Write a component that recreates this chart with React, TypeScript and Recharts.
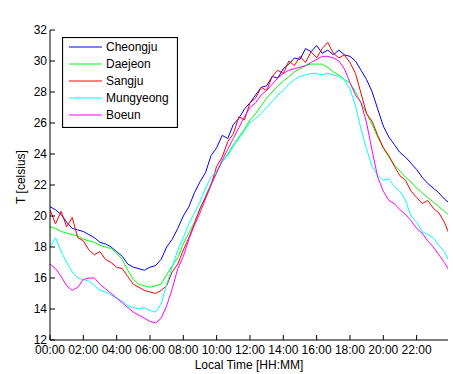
import { Legend, Line, LineChart, XAxis, YAxis } from "recharts";

// readings every 20 minutes, 00:00 .. 24:00 (deg C)
const CHEONGJU = [
  20.6, 20.4, 20.1, 19.6, 19.2, 19.1, 19.0, 18.8, 18.6, 18.3, 18.2, 18.0, 17.7, 17.4, 16.9, 16.7, 16.6, 16.5,
  16.7, 16.8, 17.2, 18.0, 18.5, 19.2, 20.0, 20.6, 21.5, 22.2, 22.8, 23.9, 24.4, 25.2, 25.0, 25.9, 26.3, 26.9,
  27.3, 27.8, 28.3, 28.4, 29.0, 28.9, 29.5, 29.8, 30.2, 30.1, 30.8, 30.6, 31.0, 30.5, 30.7, 30.4, 30.7, 30.4,
  30.3, 30.0, 29.4, 28.8, 28.0, 26.9, 25.8, 25.1, 24.6, 24.1, 23.8, 23.4, 23.0, 22.5, 22.1, 21.8, 21.5, 21.1,
  20.8,
];
const DAEJEON = [
  19.3, 19.2, 19.0, 18.9, 18.8, 18.7, 18.5, 18.4, 18.3, 18.1, 18.0, 17.9, 17.6, 17.2, 16.5, 15.9, 15.6, 15.5,
  15.4, 15.5, 15.6, 16.2, 16.8, 17.3, 18.2, 18.9, 19.6, 20.4, 21.3, 22.1, 22.8, 23.5, 24.0, 24.6, 25.1, 25.6,
  26.2, 26.6, 27.1, 27.6, 28.0, 28.4, 28.7, 29.0, 29.3, 29.5, 29.7, 29.8, 29.8, 29.8, 29.6, 29.3, 29.1, 28.8,
  28.6, 28.0, 27.3, 26.6, 25.9, 25.1, 24.4, 23.8, 23.3, 22.9, 22.5, 22.2, 21.8, 21.5, 21.2, 20.9, 20.6, 20.3,
  20.0,
];
const SANGJU = [
  20.4, 19.5, 20.3, 19.3, 19.9, 18.6, 18.4, 17.8, 17.5, 17.7, 17.2, 17.0, 16.7, 16.6, 16.1, 15.6, 15.4, 15.2,
  15.1, 15.0, 15.2, 15.5, 16.4, 16.9, 17.8, 18.6, 19.5, 20.5, 21.2, 22.0, 23.2, 23.8, 24.8, 25.3, 26.4, 26.2,
  27.3, 27.6, 28.3, 28.1, 29.0, 29.4, 29.2, 30.0, 29.7, 30.3, 29.9, 30.6, 30.2, 30.8, 31.2, 30.5, 30.2, 30.4,
  29.9, 29.2, 27.9, 26.6, 26.1, 25.2, 24.4, 23.9, 23.2, 22.6, 22.3, 21.6, 21.2, 20.8, 21.0, 20.5, 20.2, 19.6,
  18.7,
];
const MUNGYEONG = [
  18.0, 18.6, 17.7, 17.0, 16.4, 16.0, 15.9, 15.8, 15.5, 15.2, 15.1, 14.9, 14.7, 14.5, 14.2, 14.1, 14.0, 14.1,
  13.9, 13.8, 14.3, 15.6, 16.7, 17.8, 18.6, 19.5, 20.2, 20.9, 21.8, 22.5, 22.9, 23.5, 23.9, 24.5, 25.0, 25.5,
  26.0, 26.3, 26.6, 27.0, 27.4, 27.8, 28.1, 28.5, 28.8, 29.0, 29.1, 29.2, 29.2, 29.1, 29.2, 29.1, 29.0, 28.8,
  28.2, 27.1, 25.6, 24.3, 23.2, 22.6, 22.3, 22.4, 21.9, 21.6, 21.0, 20.0, 19.6, 19.0, 18.8, 18.6, 18.1, 17.7,
  17.0,
];
const BOEUN = [
  16.9, 16.6, 16.1, 15.5, 15.2, 15.4, 15.9, 16.0, 16.0, 15.6, 15.3, 15.0, 14.7, 14.4, 14.1, 13.8, 13.6, 13.4,
  13.2, 13.1, 13.4, 14.2, 15.3, 16.6, 17.4, 18.5, 19.4, 20.2, 21.1, 22.0, 22.8, 23.6, 24.3, 25.0, 25.7, 26.4,
  27.0, 27.3, 27.8, 28.1, 28.5, 28.9, 29.2, 29.4, 29.5, 29.6, 29.7, 29.9, 30.1, 30.3, 30.3, 30.2, 30.0, 29.5,
  28.6, 27.8, 27.3, 26.0, 24.2, 22.5, 21.6, 21.0, 20.8, 20.4, 20.1, 19.7, 19.2, 18.9, 18.4, 18.0, 17.5, 17.0,
  16.4,
];

const STEP_MIN = 20;
const TIMES = CHEONGJU.map((_, i) => i * STEP_MIN);
const X_TICKS = [0, 120, 240, 360, 480, 600, 720, 840, 960, 1080, 1200, 1320];
const Y_TICKS = [12, 14, 16, 18, 20, 22, 24, 26, 28, 30, 32];

const SERIES = [
  { key: "cheongju", name: "Cheongju", color: "#0000ff", values: CHEONGJU },
  { key: "daejeon", name: "Daejeon", color: "#00ff00", values: DAEJEON },
  { key: "sangju", name: "Sangju", color: "#ff0000", values: SANGJU },
  { key: "mungyeong", name: "Mungyeong", color: "#00ffff", values: MUNGYEONG },
  { key: "boeun", name: "Boeun", color: "#ff00ff", values: BOEUN },
];

const data = TIMES.map((t, i) => {
  const row: Record<string, number> = { t };
  SERIES.forEach((s) => (row[s.key] = s.values[i]));
  return row;
});

const hhmm = (m: number) => `${String(Math.floor(m / 60)).padStart(2, "0")}:${String(m % 60).padStart(2, "0")}`;

const FONT = "'Liberation Sans', Arial, Helvetica, sans-serif";

function StationLegend() {
  return (
    <svg width={116} height={91} style={{ display: "block" }}>
      <rect x={0.5} y={0.5} width={115} height={90} fill="#fff" stroke="#000" strokeWidth={1.2} />
      {SERIES.map((s, i) => (
        <g key={s.key}>
          <line x1={7} x2={40} y1={10 + i * 17} y2={10 + i * 17} stroke={s.color} />
          <text x={44} y={14 + i * 17} fontSize={12} fill="#000" fontFamily={FONT}>
            {s.name}
          </text>
        </g>
      ))}
    </svg>
  );
}

export default function App() {
  const tickStyle = { fill: "#000", fontSize: 12 };
  return (
    <div style={{ width: 453, height: 374, fontFamily: FONT, background: "#fff" }}>
      <style>{`body{margin:0}`}</style>
      <LineChart width={453} height={374} data={data} margin={{ top: 30, right: 5, bottom: 0, left: 0 }}>
        <XAxis
          dataKey="t"
          type="number"
          domain={[0, 1433]}
          allowDataOverflow
          ticks={X_TICKS}
          interval={0}
          tickFormatter={hhmm}
          height={34}
          tickSize={-5}
          tickMargin={10}
          stroke="#000"
          tick={tickStyle}
          label={{ value: "Local Time [HH:MM]", position: "insideBottom", offset: 5, fill: "#000", fontSize: 12 }}
        />
        <XAxis
          xAxisId="top"
          orientation="top"
          dataKey="t"
          type="number"
          domain={[0, 1433]}
          allowDataOverflow
          ticks={X_TICKS}
          interval={0}
          height={0}
          tickSize={-5}
          tick={false}
          stroke="#000"
          label={{ value: "Temperature", position: "top", offset: 12, fill: "#000", fontSize: 12 }}
        />
        <YAxis
          type="number"
          domain={[12, 32]}
          ticks={Y_TICKS}
          interval={0}
          width={50}
          tickSize={-5}
          tickMargin={8}
          stroke="#000"
          tick={tickStyle}
          label={{
            value: "T [celsius]",
            angle: -90,
            position: "insideLeft",
            offset: 21,
            dy: -8,
            fill: "#000",
            fontSize: 12,
            style: { textAnchor: "middle" },
          }}
        />
        <YAxis
          yAxisId="right"
          orientation="right"
          type="number"
          domain={[12, 32]}
          ticks={Y_TICKS}
          interval={0}
          width={0}
          tickSize={-5}
          tick={false}
          stroke="#000"
        />
        <Legend
          content={() => <StationLegend />}
          layout="horizontal"
          verticalAlign="middle"
          align="center"
          wrapperStyle={{ left: 62, top: 37, width: 116, height: 91 }}
        />
        {SERIES.map((s) => (
          <Line
            key={s.key}
            dataKey={s.key}
            name={s.name}
            type="linear"
            stroke={s.color}
            strokeWidth={1}
            dot={false}
            activeDot={false}
            isAnimationActive={false}
          />
        ))}
      </LineChart>
    </div>
  );
}
